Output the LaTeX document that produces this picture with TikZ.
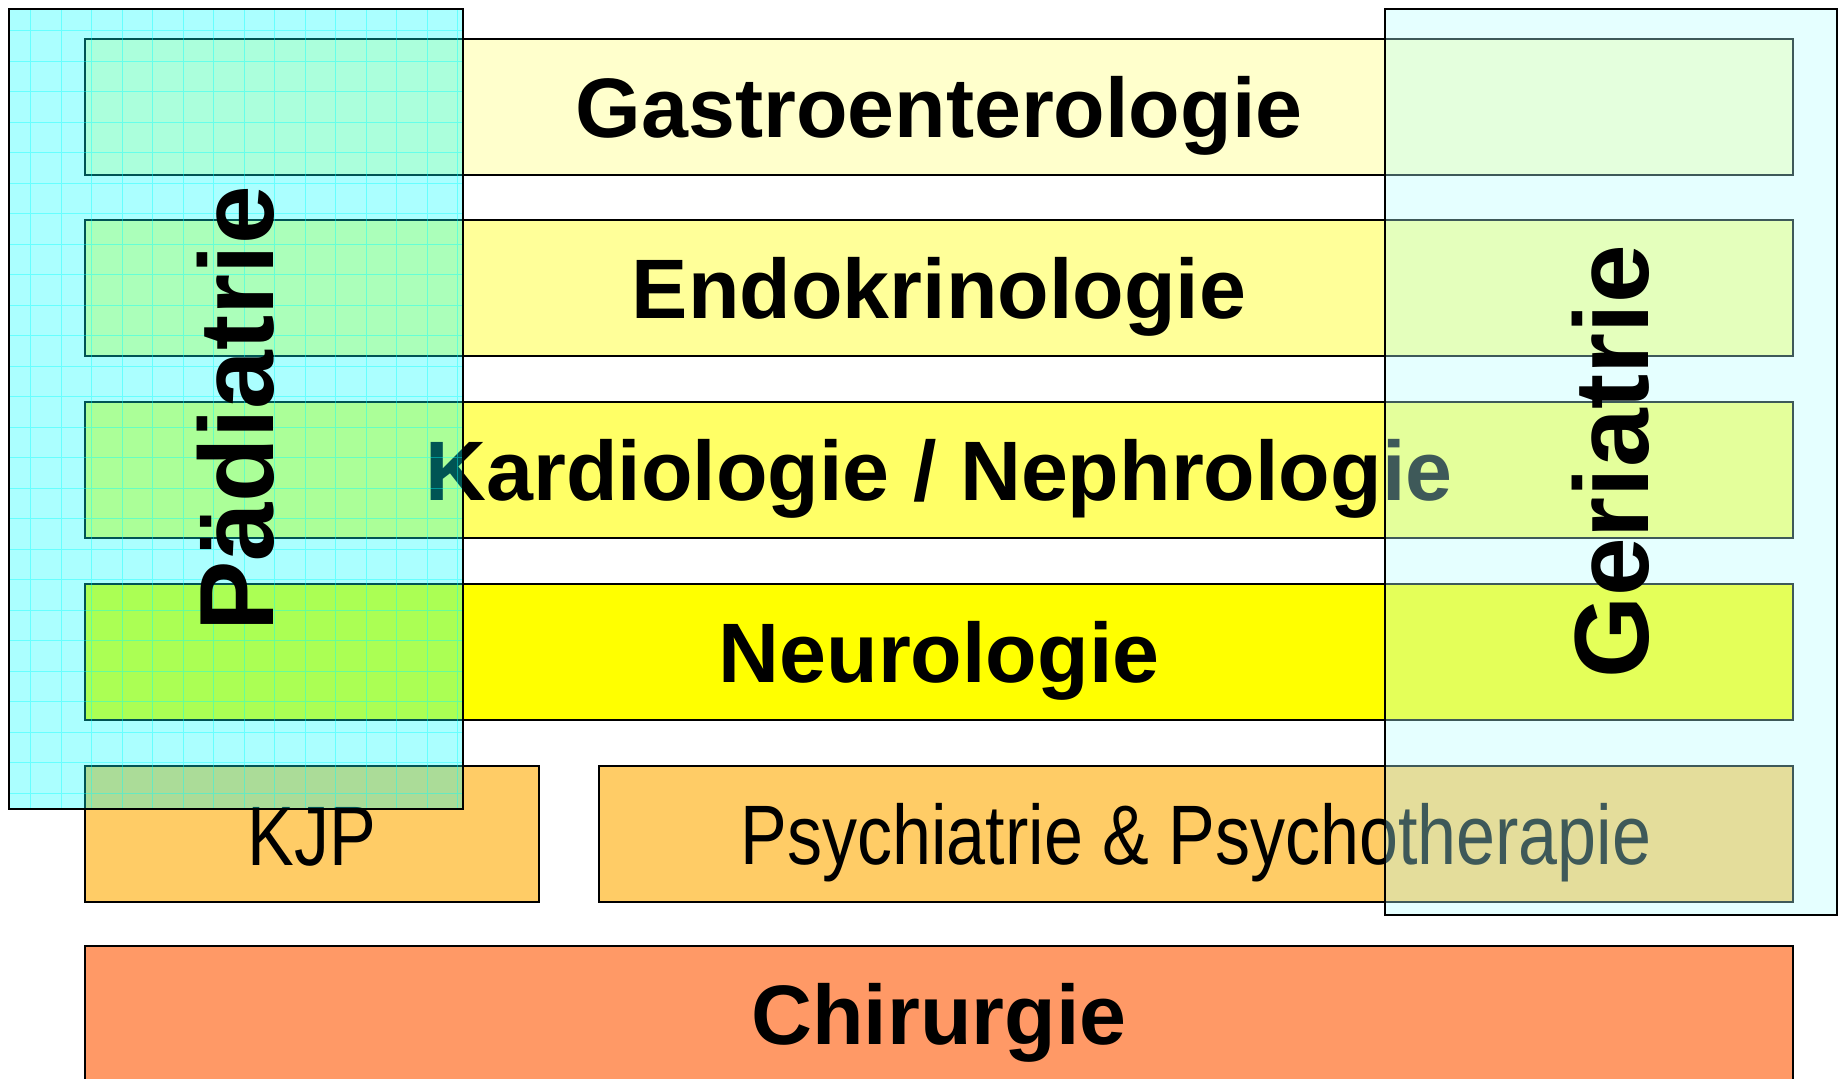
\documentclass[tikz,border=0pt]{standalone}
\usepackage{fontspec}
\setmainfont{Liberation Sans}
\definecolor{gastrofill}{RGB}{255,255,204}
\definecolor{endofill}{RGB}{255,255,153}
\definecolor{kardiofill}{RGB}{255,255,102}
\definecolor{neurofill}{RGB}{255,255,0}
\definecolor{psychfill}{RGB}{255,204,102}
\definecolor{chirfill}{RGB}{255,153,102}
\definecolor{paedfill}{RGB}{0,255,255}
\definecolor{gerifill}{RGB}{180,255,255}
\begin{document}
\begin{tikzpicture}[
			x=0.01cm, y=-0.01cm,
			box/.style={draw=black, line width=0.6pt, inner sep=0pt, outer sep=0pt, minimum height=1.36cm, text depth=0pt},
			row/.style={box, minimum width=17.07cm, font=\fontsize{24}{28}\selectfont\bfseries},
			narrowtext/.style={font=\fontsize{24}{28}\selectfont},
			overlay box/.style={draw=black, line width=0.6pt, inner sep=0pt, outer sep=0pt},
			sidelabel/.style={rotate=90, font=\fontsize{30}{34}\selectfont\bfseries}
			]
			\useasboundingbox (0,0) rectangle (1839,1079);
			% rows
			\node[row, fill=gastrofill] (gastro) at (939,107) {Gastroenterologie};
			\node[row, fill=endofill] (endo) at (939,288) {Endokrinologie};
			\node[row, fill=kardiofill] (kardio) at (939,470) {Kardiologie / Nephrologie};
			\node[row, fill=neurofill] (neuro) at (939,652) {Neurologie};
			\node[box, narrowtext, fill=psychfill, minimum width=4.53cm] (kjp) at (312,834) {\raisebox{-0.05cm}{\scalebox{0.83}[1]{KJP}}};
			\node[box, narrowtext, fill=psychfill, minimum width=11.94cm] (psych) at (1196,834) {\scalebox{0.83}[1]{Psychiatrie \& Psychotherapie}};
			\node[row, fill=chirfill] (chir) at (939,1014) {Chirurgie};
			% overlays
			\node[overlay box, fill=paedfill, fill opacity=0.33, minimum width=4.54cm, minimum height=8.00cm] (paed) at (236,409) {};
			\draw[paedfill, line width=0.3pt, opacity=0.4] ([shift={(1,-1)}]paed.south west) grid[step=0.305cm] ([shift={(-1,1)}]paed.north east);
			\draw[line width=0.6pt] (paed.south west) rectangle (paed.north east);
			\node[sidelabel] (paedlabel) at (paed) {Pädiatrie};
			\node[overlay box, fill=gerifill, fill opacity=0.35, minimum width=4.52cm, minimum height=9.06cm] (geri) at (1611,462) {};
			\node[sidelabel] (gerilabel) at (geri) {Geriatrie};
		\end{tikzpicture}
\end{document}
